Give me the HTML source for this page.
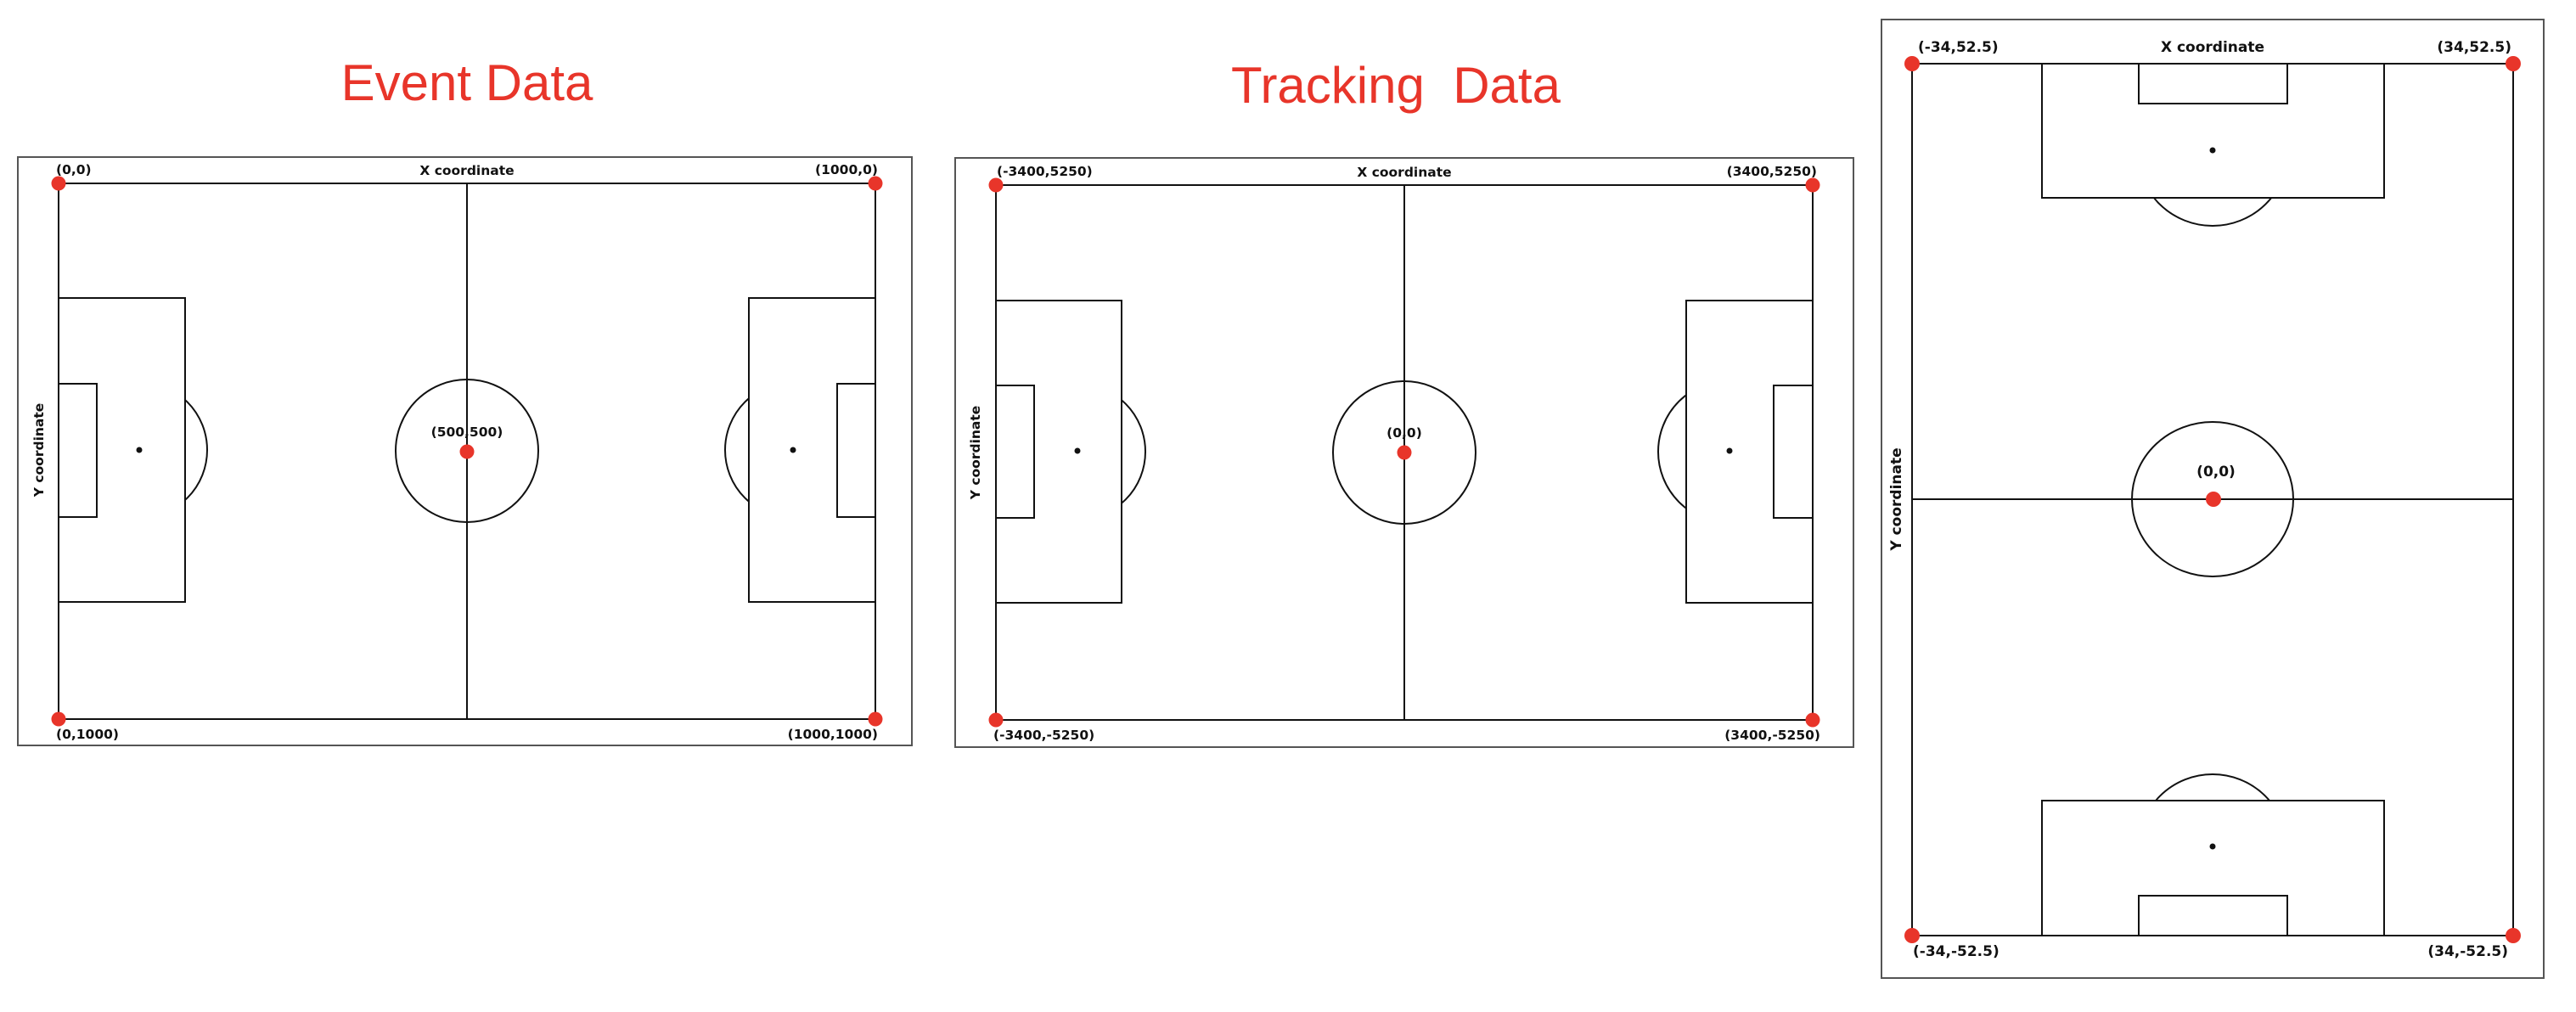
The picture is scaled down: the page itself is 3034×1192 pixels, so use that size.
<!DOCTYPE html>
<html><head><meta charset="utf-8"><style>
html,body{margin:0;padding:0;background:#fff;}
svg{display:block;}
text{font-family:"DejaVu Sans","Liberation Sans",sans-serif;font-weight:bold;fill:#111;}
.t{font-family:"Liberation Sans",sans-serif;font-weight:normal;fill:#e8352a;font-size:60px;}
.l{font-size:15.5px;}
.l3{font-size:17px;}
</style></head><body>
<svg width="3034" height="1192" viewBox="0 0 3034 1192" xmlns="http://www.w3.org/2000/svg">
<g stroke="#111" stroke-width="2" fill="none">
<!-- Panel 1 -->
<rect x="21" y="185" width="1053" height="693" stroke="#555"/>
<circle cx="164" cy="530" r="80"/>
<circle cx="934" cy="530" r="80"/>
<rect x="69" y="216" width="962" height="631"/>
<line x1="550" y1="216" x2="550" y2="847"/>
<circle cx="550" cy="531" r="84"/>
<rect x="69" y="351" width="149" height="358" fill="#fff"/>
<rect x="69" y="452" width="45" height="157"/>
<rect x="882" y="351" width="149" height="358" fill="#fff"/>
<rect x="986" y="452" width="45" height="157"/>
<!-- Panel 2 -->
<rect x="1125" y="186" width="1058" height="694" stroke="#555"/>
<circle cx="1269" cy="532" r="80"/>
<circle cx="2037" cy="532" r="84"/>
<rect x="1173" y="218" width="962" height="630"/>
<line x1="1654" y1="218" x2="1654" y2="848"/>
<circle cx="1654" cy="533" r="84"/>
<rect x="1173" y="354" width="148" height="356" fill="#fff"/>
<rect x="1173" y="454" width="45" height="156"/>
<rect x="1986" y="354" width="149" height="356" fill="#fff"/>
<rect x="2089" y="454" width="46" height="156"/>
<!-- Panel 3 -->
<rect x="2216" y="23" width="780" height="1129" stroke="#555"/>
<circle cx="2606" cy="177" r="89"/>
<circle cx="2606" cy="1000" r="88"/>
<rect x="2252" y="75" width="708" height="1027"/>
<line x1="2252" y1="588" x2="2960" y2="588"/>
<ellipse cx="2606" cy="588" rx="95" ry="91"/>
<rect x="2405" y="75" width="403" height="158" fill="#fff"/>
<rect x="2519" y="75" width="175" height="47"/>
<rect x="2405" y="943" width="403" height="159" fill="#fff"/>
<rect x="2519" y="1055" width="175" height="47"/>
</g>
<g fill="#111">
<circle cx="164" cy="530" r="3.5"/><circle cx="934" cy="530" r="3.5"/>
<circle cx="1269" cy="531" r="3.5"/><circle cx="2037" cy="531" r="3.5"/>
<circle cx="2606" cy="177" r="3.5"/><circle cx="2606" cy="997" r="3.5"/>
</g>
<g fill="#e8352a">
<circle cx="69" cy="216" r="8.5"/><circle cx="1031" cy="216" r="8.5"/>
<circle cx="69" cy="847" r="8.5"/><circle cx="1031" cy="847" r="8.5"/>
<circle cx="550" cy="532" r="8.5"/>
<circle cx="1173" cy="218" r="8.5"/><circle cx="2135" cy="218" r="8.5"/>
<circle cx="1173" cy="848" r="8.5"/><circle cx="2135" cy="848" r="8.5"/>
<circle cx="1654" cy="533" r="8.5"/>
<circle cx="2252" cy="75" r="9"/><circle cx="2960" cy="75" r="9"/>
<circle cx="2252" cy="1102" r="9"/><circle cx="2960" cy="1102" r="9"/>
<circle cx="2607" cy="588" r="9"/>
</g>
<text class="t" x="550" y="118" text-anchor="middle">Event Data</text>
<text class="t" x="1644" y="121" text-anchor="middle" xml:space="preserve">Tracking  Data</text>
<!-- panel 1 labels -->
<text class="l" x="66" y="205">(0,0)</text>
<text class="l" x="550" y="206" text-anchor="middle">X coordinate</text>
<text class="l" x="1034" y="205" text-anchor="end">(1000,0)</text>
<text class="l" x="66" y="870">(0,1000)</text>
<text class="l" x="1034" y="870" text-anchor="end">(1000,1000)</text>
<text class="l" x="550" y="514" text-anchor="middle">(500,500)</text>
<text class="l" transform="translate(51,530) rotate(-90)" text-anchor="middle">Y coordinate</text>
<!-- panel 2 labels -->
<text class="l" x="1174" y="207">(-3400,5250)</text>
<text class="l" x="1654" y="208" text-anchor="middle">X coordinate</text>
<text class="l" x="2140" y="207" text-anchor="end">(3400,5250)</text>
<text class="l" x="1170" y="871">(-3400,-5250)</text>
<text class="l" x="2144" y="871" text-anchor="end">(3400,-5250)</text>
<text class="l" x="1654" y="515" text-anchor="middle">(0,0)</text>
<text class="l" transform="translate(1154,533) rotate(-90)" text-anchor="middle">Y coordinate</text>
<!-- panel 3 labels -->
<text class="l3" x="2259" y="61">(-34,52.5)</text>
<text class="l3" x="2606" y="61" text-anchor="middle">X coordinate</text>
<text class="l3" x="2958" y="61" text-anchor="end">(34,52.5)</text>
<text class="l3" x="2253" y="1126">(-34,-52.5)</text>
<text class="l3" x="2954" y="1126" text-anchor="end">(34,-52.5)</text>
<text class="l3" x="2610" y="561" text-anchor="middle">(0,0)</text>
<text class="l3" transform="translate(2239,588) rotate(-90)" text-anchor="middle">Y coordinate</text>
</svg>
</body></html>
